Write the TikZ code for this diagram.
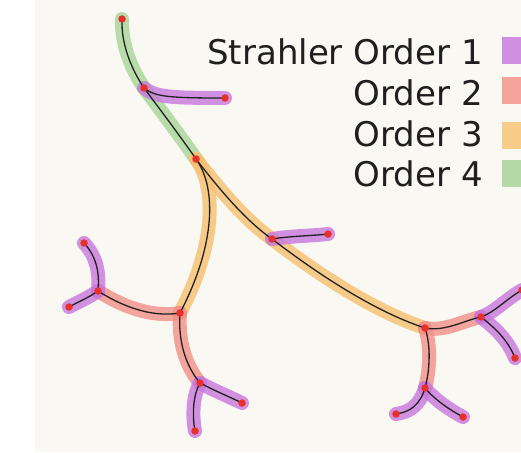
\documentclass[tikz,border=0pt]{standalone}
\usepackage{fontspec}
\setmainfont{DejaVu Sans}
\definecolor{bgc}{HTML}{FAF8F3}
\definecolor{ordA}{HTML}{C878DC}
\definecolor{ordB}{HTML}{F09088}
\definecolor{ordC}{HTML}{F6C070}
\definecolor{ordD}{HTML}{A8D498}
\definecolor{swA}{HTML}{D18FE2}
\definecolor{swB}{HTML}{F4A39A}
\definecolor{swC}{HTML}{F8CD8A}
\definecolor{swD}{HTML}{B5D9A6}
\definecolor{dotc}{HTML}{E8302A}
\definecolor{linec}{HTML}{222222}
\begin{document}
\begin{tikzpicture}[x=1pt,y=-1pt,
  hl/.style={line width=14pt,line cap=round,opacity=0.8},
  ln/.style={linec,line width=1.3pt},
  dot/.style={circle,fill=dotc,inner sep=0pt,minimum size=7.5pt},
  legtext/.style={font=\fontsize{34}{37}\selectfont,text=black!88,inner sep=0pt},
  swatch/.style={draw=none,inner sep=0pt,minimum width=24pt,minimum height=27pt,anchor=north west}]
\clip (0,0) rectangle (521,452);
\fill[white] (0,0) rectangle (521,452);
\fill[bgc] (35,0) rectangle (521,452);
% nodes (junctions and tips)
\coordinate (t0) at (122,19);
\coordinate (a) at (144,88);
\coordinate (al) at (225,98);
\coordinate (b) at (196,159);
\coordinate (c) at (180,313);
\coordinate (d) at (272,239);
\coordinate (dl) at (328,234);
\coordinate (e) at (425,328);
\coordinate (f) at (98,291);
\coordinate (f1) at (84,243);
\coordinate (f2) at (69,307);
\coordinate (g) at (200,383);
\coordinate (g1) at (242,403);
\coordinate (g2) at (195,431);
\coordinate (h) at (481,317);
\coordinate (h1) at (522,290);
\coordinate (h2) at (515,358);
\coordinate (i) at (425,388);
\coordinate (i1) at (396,414);
\coordinate (i2) at (463,417);
% paths
\def\pTA{(t0) .. controls (121,45) and (132,70) .. (a)}
\def\pAB{(a) .. controls (162,112) and (180,136) .. (b)}
\def\pAL{(a) .. controls (155,97) and (170,98) .. (al)}
\def\pBC{(b) .. controls (215,185) and (218,240) .. (c)}
\def\pBD{(b) .. controls (220,190) and (245,220) .. (d)}
\def\pDE{(d) .. controls (310,268) and (370,310) .. (e)}
\def\pDL{(d) .. controls (290,236) and (310,236) .. (dl)}
\def\pCF{(c) .. controls (150,318) and (120,305) .. (f)}
\def\pFa{(f) .. controls (100,270) and (95,255) .. (f1)}
\def\pFb{(f) .. controls (88,298) and (78,302) .. (f2)}
\def\pCG{(c) .. controls (178,340) and (185,365) .. (g)}
\def\pGa{(g) .. controls (215,391) and (230,397) .. (g1)}
\def\pGb{(g) .. controls (193,395) and (192,415) .. (g2)}
\def\pEH{(e) .. controls (445,332) and (465,320) .. (h)}
\def\pHa{(h) .. controls (495,312) and (505,300) .. (h1)}
\def\pHb{(h) .. controls (495,328) and (508,340) .. (h2)}
\def\pEI{(e) .. controls (431,345) and (430,370) .. (i)}
\def\pIa{(i) .. controls (420,405) and (410,412) .. (i1)}
\def\pIb{(i) .. controls (435,400) and (450,410) .. (i2)}
% highlights
\draw[hl,ordD] \pTA;
\draw[hl,ordD] \pAB;
\draw[hl,ordA] \pAL;
\draw[hl,ordC] \pBC;
\draw[hl,ordC] \pBD;
\draw[hl,ordC] \pDE;
\draw[hl,ordA] \pDL;
\draw[hl,ordB] \pCF;
\draw[hl,ordA] \pFa;
\draw[hl,ordA] \pFb;
\draw[hl,ordB] \pCG;
\draw[hl,ordA] \pGa;
\draw[hl,ordA] \pGb;
\draw[hl,ordB] \pEH;
\draw[hl,ordA] \pHa;
\draw[hl,ordA] \pHb;
\draw[hl,ordB] \pEI;
\draw[hl,ordA] \pIa;
\draw[hl,ordA] \pIb;
% black lines
\draw[ln] \pTA; \draw[ln] \pAB; \draw[ln] \pAL;
\draw[ln] \pBC; \draw[ln] \pBD; \draw[ln] \pDE; \draw[ln] \pDL;
\draw[ln] \pCF; \draw[ln] \pFa; \draw[ln] \pFb;
\draw[ln] \pCG; \draw[ln] \pGa; \draw[ln] \pGb;
\draw[ln] \pEH; \draw[ln] \pHa; \draw[ln] \pHb;
\draw[ln] \pEI; \draw[ln] \pIa; \draw[ln] \pIb;
% dots
\foreach \p in {t0,a,al,b,c,d,dl,e,f,f1,f2,g,g1,g2,h,h1,h2,i,i1,i2}
  \node[dot] at (\p) {};
% legend
\node[legtext,anchor=base east] (l1) at (483,64) {Strahler Order 1};
\node[legtext,anchor=base east] (l2) at (483,105) {Order 2};
\node[legtext,anchor=base east] (l3) at (483,146) {Order 3};
\node[legtext,anchor=base east] (l4) at (483,186) {Order 4};
\node[swatch,fill=swA] (s1) at (502,37) {};
\node[swatch,fill=swB] (s2) at (502,77) {};
\node[swatch,fill=swC] (s3) at (502,122) {};
\node[swatch,fill=swD] (s4) at (502,160) {};
\end{tikzpicture}
\end{document}
